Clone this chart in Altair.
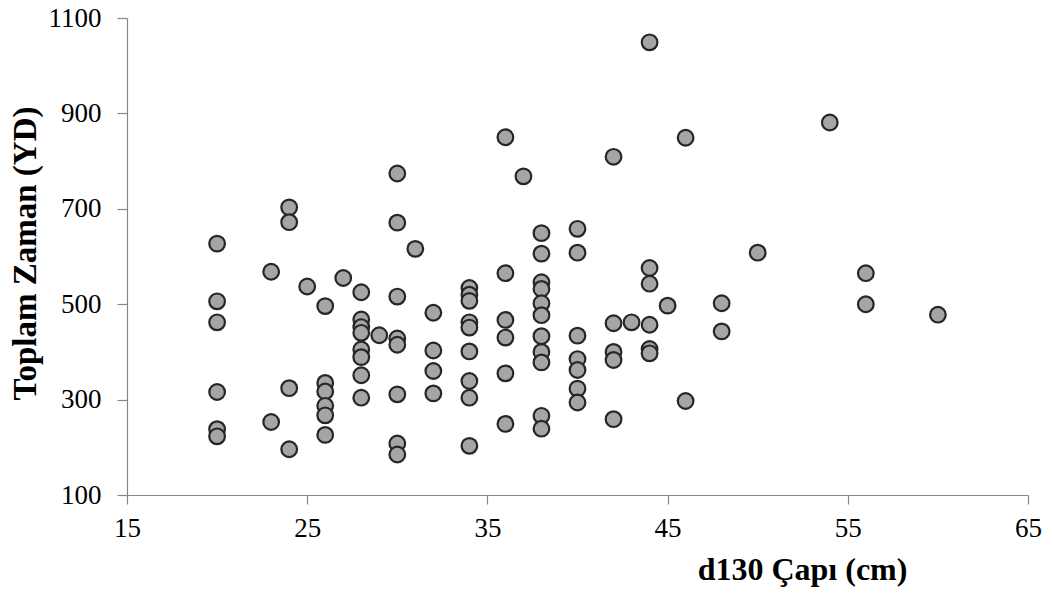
import altair as alt
import pandas as pd

# d130 diameter (cm) and total time (YD)
d130_cm = (
    [20] * 6 + [23] * 2 + [24] * 4 + [25] + [26] * 6 + [27] + [28] * 8 + [29]
    + [30] * 8 + [31] + [32] * 4 + [34] * 9 + [36] * 6 + [37] + [38] * 11
    + [40] * 7 + [42] * 5 + [43] + [44] * 6 + [45] + [46] * 2 + [48] * 2
    + [50] + [54] + [56] * 2 + [60]
)
toplam_yd = [
    627, 506, 462, 316, 238, 223,          # 20
    568, 253,                              # 23
    703, 672, 324, 196,                    # 24
    537,                                   # 25
    496, 335, 317, 287, 267, 226,          # 26
    555,                                   # 27
    525, 468, 452, 440, 405, 389, 351, 304,  # 28
    435,                                   # 29
    774, 671, 516, 428, 415, 311, 208, 185,  # 30
    616,                                   # 31
    482, 403, 360, 313,                    # 32
    534, 520, 507, 462, 451, 401, 339, 304, 203,  # 34
    850, 565, 467, 430, 355, 249,          # 36
    768,                                   # 37
    649, 606, 546, 532, 502, 477, 433, 400, 378, 266, 239,  # 38
    658, 608, 434, 385, 362, 323, 294,     # 40
    809, 460, 400, 383, 259,               # 42
    462,                                   # 43
    1049, 576, 543, 457, 406, 397,         # 44
    497,                                   # 45
    849, 297,                              # 46
    502, 443,                              # 48
    608,                                   # 50
    881,                                   # 54
    565, 500,                              # 56
    478,                                   # 60
]
x_ticks = [15, 25, 35, 45, 55, 65]
y_ticks = [100, 300, 500, 700, 900, 1100]

df = pd.DataFrame({"d130": d130_cm, "toplam": toplam_yd})

FONT = "Liberation Serif"
AXIS_GRAY = "#868686"

chart = (
    alt.Chart(df)
    .mark_circle(size=245, fill="#a5a5a5", stroke="#262626", strokeWidth=2.2, opacity=1)
    .encode(
        x=alt.X(
            "d130:Q",
            scale=alt.Scale(domain=[15, 65], nice=False, zero=False),
            axis=alt.Axis(
                values=x_ticks,
                format="d",
                labelFlush=False,
                labelAlign="center",
                tickSize=9,
                labelPadding=11,
                title="d130 Çapı (cm)",
                titleFontSize=32,
                titleX=675,
                titleY=84,
                titleAlign="center",
                titleBaseline="alphabetic",
            ),
        ),
        y=alt.Y(
            "toplam:Q",
            scale=alt.Scale(domain=[100, 1100], nice=False, zero=False),
            axis=alt.Axis(
                values=y_ticks,
                format="d",
                labelFlush=False,
                labelBaseline="middle",
                tickSize=10,
                labelPadding=16,
                title="Toplam Zaman (YD)",
                titleFontSize=33,
                titleX=-92,
                titleY=235,
                titleAngle=-90,
                titleAlign="center",
                titleBaseline="alphabetic",
            ),
        ),
    )
    .properties(
        width=901,
        height=477,
        autosize=alt.AutoSizeParams(type="none"),
        padding={"left": 119, "top": 10, "right": 17, "bottom": 96},
    )
    .configure_view(stroke=None)
    .configure_axis(
        grid=False,
        domainColor=AXIS_GRAY,
        tickColor=AXIS_GRAY,
        domainWidth=1.2,
        tickWidth=1.2,
        labelFont=FONT,
        labelFontSize=27,
        labelColor="#000000",
        titleFont=FONT,
        titleFontWeight="bold",
        titleColor="#000000",
    )
)

chart.save("out.html", embed_options={"renderer": "svg", "actions": False})
